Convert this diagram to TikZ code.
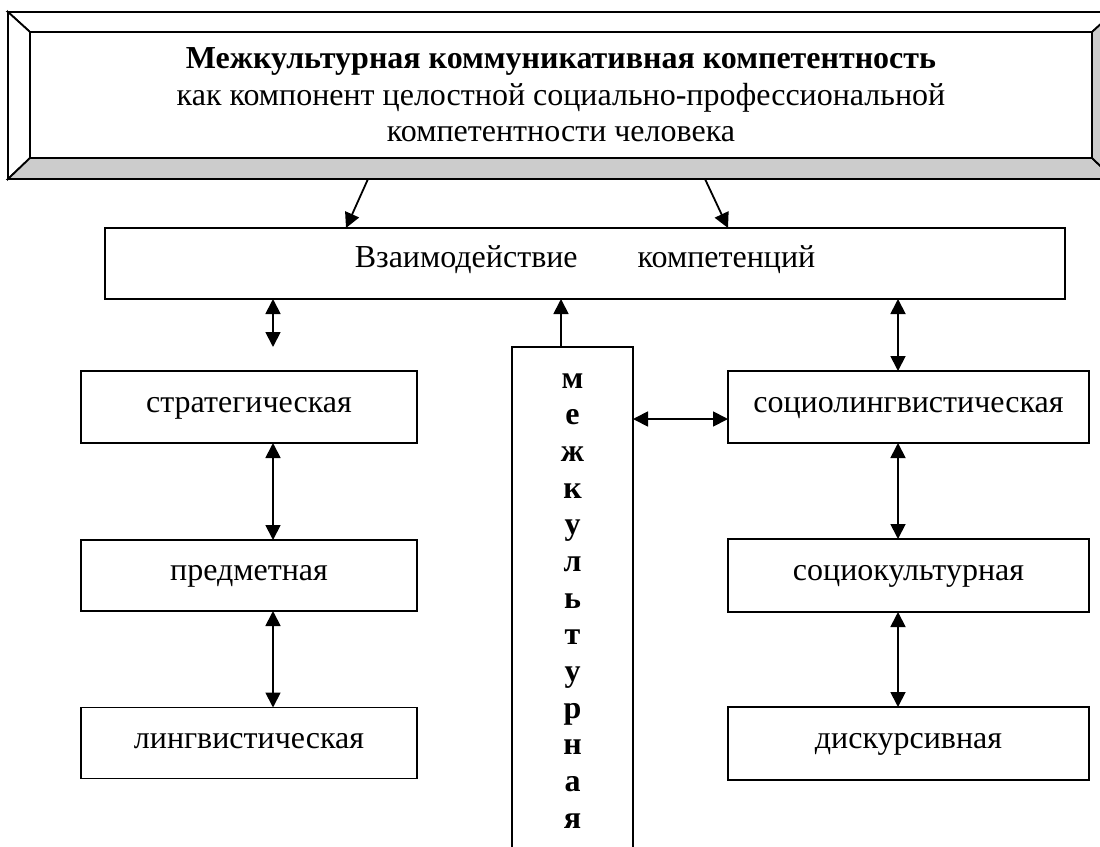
\documentclass[tikz,border=0pt]{standalone}
\usepackage{fontspec}
\setmainfont{Liberation Serif}
\usetikzlibrary{arrows.meta,calc}
\begin{document}
\begin{tikzpicture}[x=1pt,y=-1pt,
  font=\fontsize{32}{37}\selectfont,
  lw/.style={line width=1.8pt},
  box/.style={draw,lw,rectangle,inner sep=0pt,outer sep=0pt,text height=17pt,text depth=7pt},
  tip/.tip={Triangle[length=15pt,width=15pt]},
  arr/.style={lw,-tip},
  darr/.style={lw,tip-tip},
  bevel/.style={draw,lw,line join=miter}]
\useasboundingbox (0,0) rectangle (1100,846);
\clip (0,0) rectangle (1100,846);
% bevelled title frame
\fill[white] (8,12) rectangle (1114,179);
\filldraw[bevel,fill=white] (8,12) -- (1114,12) -- (1092,32) -- (30,32) -- cycle;
\filldraw[bevel,fill=white] (8,12) -- (30,32) -- (30,158) -- (8,179) -- cycle;
\filldraw[bevel,fill=black!20] (8,179) -- (30,158) -- (1092,158) -- (1114,179) -- cycle;
\filldraw[bevel,fill=black!20] (1114,12) -- (1092,32) -- (1092,158) -- (1114,179) -- cycle;
\node[draw,lw,inner sep=0pt,outer sep=0pt,minimum width=1062pt,minimum height=126pt] (top) at (561,95) {};
\node[anchor=base] (t1) at (561,68) {\bfseries Межкультурная коммуникативная компетентность};
\node[anchor=base] (t2) at (561,105) {как компонент целостной социально-профессиональной};
\node[anchor=base] (t3) at (561,141) {компетентности человека};
% boxes
\node[box,minimum width=960pt,minimum height=71pt,text height=20pt,text depth=13pt] (inter) at (585,263.5) {Взаимодействие\hspace{60pt}компетенций};
\node[box,minimum width=336pt,minimum height=72pt] (strat) at (249,407) {стратегическая};
\node[box,minimum width=336pt,minimum height=71pt] (pred) at (249,575.5) {предметная};
\node[box,minimum width=336pt,minimum height=71pt] (ling) at (249,743) {лингвистическая};
\node[box,minimum width=361pt,minimum height=72pt] (socl) at (908.5,407) {социолингвистическая};
\node[box,minimum width=361pt,minimum height=73pt] (socc) at (908.5,575.5) {социокультурная};
\node[box,minimum width=361pt,minimum height=73pt] (disc) at (908.5,743.5) {дискурсивная};
\node[draw,lw,inner sep=0pt,outer sep=0pt,minimum width=121pt,minimum height=553pt] (mid) at (572.5,623.5) {};
\foreach \ch [count=\i] in {м,е,ж,к,у,л,ь,т,у,р,н,а,я}
  \node[anchor=base,font=\fontsize{32}{37}\selectfont\bfseries] (L\i) at (572.5,{388+36.67*(\i-1)}) {\ch};
% connectors
\draw[arr] ($(top.south west)+(338,21)$) -- ($(inter.north west)+(241,0)$);
\draw[arr] ($(top.south west)+(675,21)$) -- ($(inter.north west)+(623,0)$);
\coordinate (lx) at (273,347);
\draw[darr] (lx |- inter.south) -- (lx);
\draw[darr] (strat.south -| lx) -- (pred.north -| lx);
\draw[darr] (pred.south -| lx) -- (ling.north -| lx);
\coordinate (rx) at (898,0);
\draw[darr] (inter.south -| rx) -- (socl.north -| rx);
\draw[darr] (socl.south -| rx) -- (socc.north -| rx);
\draw[darr] (socc.south -| rx) -- (disc.north -| rx);
\coordinate (mx) at (561,0);
\draw[arr] (mid.north -| mx) -- (inter.south -| mx);
\coordinate (hy) at (0,419);
\draw[darr] (mid.east |- hy) -- (socl.west |- hy);
\end{tikzpicture}
\end{document}
